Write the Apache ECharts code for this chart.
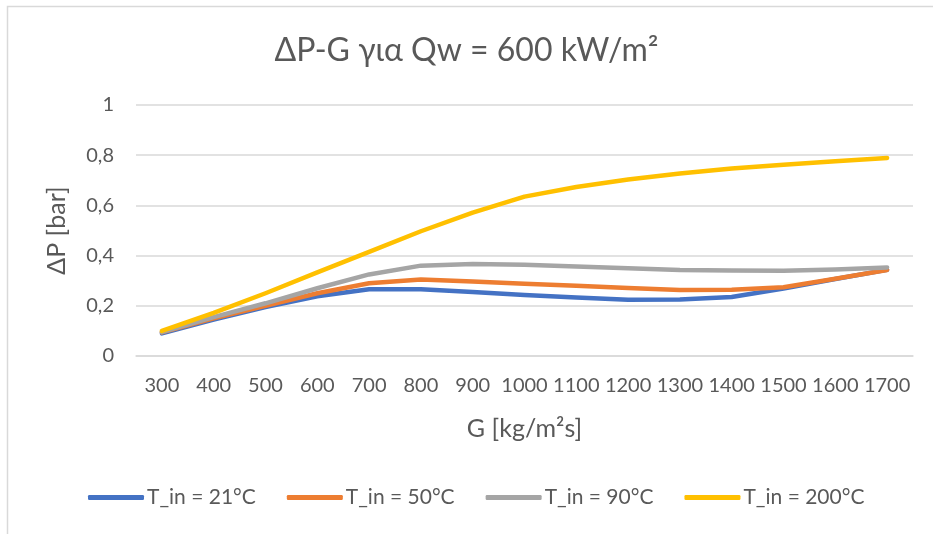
<!DOCTYPE html>
<html>
<head>
<meta charset="utf-8">
<script src="https://cdn.jsdelivr.net/npm/echarts@6/dist/echarts.min.js"></script>
<style>
  html, body { margin: 0; padding: 0; background: #fff; }
  #chart { width: 933px; height: 534px; }
</style>
</head>
<body>
<div id="chart"></div>
<script>
// Mass flux G [kg/m²s]
const categories = ['300', '400', '500', '600', '700', '800', '900', '1000', '1100', '1200', '1300', '1400', '1500', '1600', '1700'];

// Pressure drop ΔP [bar] for each inlet temperature
const tin21  = [0.090, 0.145, 0.195, 0.238, 0.266, 0.266, 0.255, 0.243, 0.233, 0.224, 0.225, 0.235, 0.269, 0.307, 0.343];
const tin50  = [0.094, 0.150, 0.200, 0.250, 0.290, 0.305, 0.297, 0.288, 0.280, 0.271, 0.263, 0.264, 0.274, 0.308, 0.343];
const tin90  = [0.095, 0.155, 0.210, 0.270, 0.325, 0.360, 0.367, 0.364, 0.357, 0.350, 0.343, 0.341, 0.340, 0.345, 0.353];
const tin200 = [0.100, 0.172, 0.250, 0.333, 0.415, 0.497, 0.571, 0.635, 0.673, 0.703, 0.727, 0.747, 0.762, 0.776, 0.789];

const seriesNames = ['T_in = 21°C', 'T_in = 50°C', 'T_in = 90°C', 'T_in = 200°C'];
const seriesData = [tin21, tin50, tin90, tin200];
const seriesColors = ['#4472C4', '#ED7D31', '#A5A5A5', '#FFC000'];

const yTicks = { min: 0, max: 1, interval: 0.2 };

const font = 'Lato, "Noto Sans", sans-serif';
const textColor = '#595959';

const chart = echarts.init(document.getElementById('chart'), null, { renderer: 'canvas' });

chart.setOption({
  animation: false,
  backgroundColor: '#ffffff',
  textStyle: { fontFamily: font, color: textColor },
  title: {
    text: 'ΔP-G για Qw = 600 kW/m²',
    left: 'center',
    top: 30,
    textStyle: { fontFamily: font, fontSize: 32, fontWeight: 'normal', color: textColor }
  },
  graphic: [{
    type: 'rect',
    shape: { x: 7.5, y: 6.5, width: 960, height: 560 },
    style: { fill: 'none', stroke: '#d9d9d9', lineWidth: 1.5 },
    silent: true
  }],
  grid: { left: 136, right: 20, top: 105, bottom: 178 },
  legend: {
    bottom: 21,
    left: 83,
    itemWidth: 56,
    itemHeight: 5,
    itemGap: 31,
    icon: 'roundRect',
    textStyle: { fontFamily: font, fontSize: 21, color: textColor, padding: [0, 0, 0, -2] },
    data: seriesNames
  },
  xAxis: {
    type: 'category',
    data: categories,
    boundaryGap: true,
    name: 'G [kg/m²s]',
    nameLocation: 'middle',
    nameGap: 60,
    nameTextStyle: { fontFamily: font, fontSize: 25, color: textColor },
    axisLine: { show: true, lineStyle: { color: '#d9d9d9', width: 1.5 } },
    axisTick: { show: false },
    axisLabel: { fontFamily: font, fontSize: 20, color: textColor, margin: 20, interval: 0 },
    splitLine: { show: false }
  },
  yAxis: {
    type: 'value',
    min: yTicks.min,
    max: yTicks.max,
    interval: yTicks.interval,
    name: 'ΔP [bar]',
    nameLocation: 'middle',
    nameGap: 67,
    nameTextStyle: { fontFamily: font, fontSize: 25, color: textColor },
    axisLine: { show: false },
    axisTick: { show: false },
    axisLabel: {
      fontFamily: font, fontSize: 20, color: textColor, margin: 22,
      formatter: v => String(Math.round(v * 10) / 10).replace('.', ',')
    },
    splitLine: { show: true, lineStyle: { color: '#d9d9d9', width: 1.5 } }
  },
  series: seriesNames.map((name, i) => ({
    name,
    type: 'line',
    data: seriesData[i],
    symbol: 'none',
    smooth: false,
    lineStyle: { color: seriesColors[i], width: 4.5, cap: 'round', join: 'round' },
    itemStyle: { color: seriesColors[i] },
    z: 2 + i
  }))
});
</script>
</body>
</html>
